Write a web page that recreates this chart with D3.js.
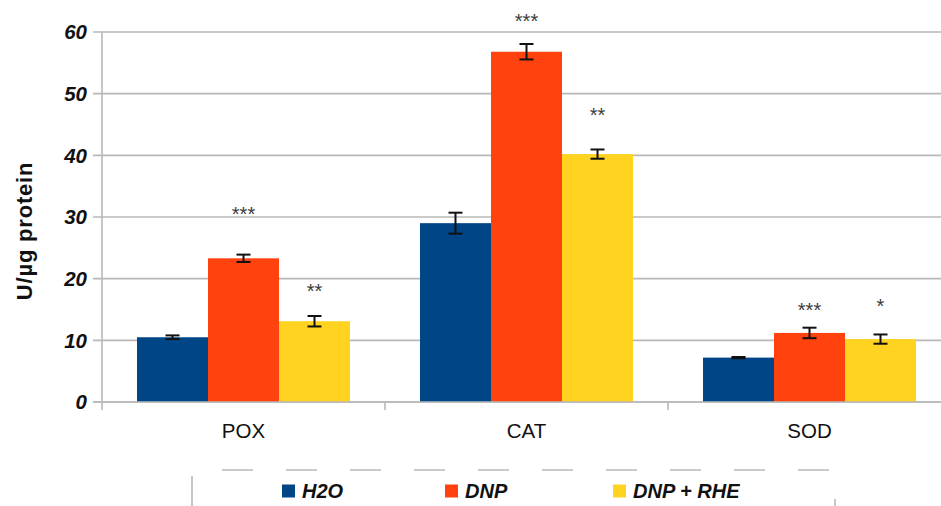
<!DOCTYPE html>
<html>
<head>
<meta charset="utf-8">
<script src="https://cdn.jsdelivr.net/npm/d3@7"></script>
<style>
  html, body { margin: 0; padding: 0; background: #fff; }
  svg { display: block; font-family: "Liberation Sans", Arial, sans-serif; }
</style>
</head>
<body>
<svg id="chart" width="941" height="506"></svg>
<script>
// Enzyme activities per treatment group
const categories = ["POX", "CAT", "SOD"];
const seriesNames = ["H2O", "DNP", "DNP + RHE"];
const h2oValues = [10.5, 29.0, 7.2];
const dnpValues = [23.3, 56.8, 11.2];
const rheValues = [13.1, 40.2, 10.2];
const h2oErrors = [0.3, 1.7, 0.1];
const dnpErrors = [0.6, 1.25, 0.85];
const rheErrors = [0.85, 0.75, 0.75];
// Significance marks and the level (in U/µg) where each one sits
const h2oMarks = ["", "", ""];
const dnpMarks = ["***", "***", "***"];
const rheMarks = ["**", "**", "*"];
const dnpMarkLevels = [31.0, 62.3, 15.4];
const rheMarkLevels = [18.5, 47.0, 16.1];
const yTicks = [0, 10, 20, 30, 40, 50, 60];

const colors = ["#004586", "#ff420e", "#ffd320"];

const seriesValues = [h2oValues, dnpValues, rheValues];
const seriesErrors = [h2oErrors, dnpErrors, rheErrors];
const seriesMarks = [h2oMarks, dnpMarks, rheMarks];
const seriesMarkLevels = [null, dnpMarkLevels, rheMarkLevels];

const svg = d3.select("#chart");

const plotLeft = 102, plotRight = 951, plotTop = 32, plotBottom = 402;

const x = d3.scaleBand().domain(categories).range([plotLeft, plotRight]).padding(0);
const xs = d3.scaleBand().domain(seriesNames)
  .range([0, x.bandwidth()]).paddingInner(0).paddingOuter(0.493);
const y = d3.scaleLinear().domain([0, 60]).range([plotBottom, plotTop]);

// Horizontal gridlines with short ticks left of the axis
const grid = svg.append("g");
grid.selectAll("line").data(yTicks).join("line")
  .attr("x1", plotLeft - 9).attr("x2", plotRight)
  .attr("y1", d => y(d)).attr("y2", d => y(d))
  .attr("stroke", "#b8b8b8").attr("stroke-width", 1.6);

// Y axis labels
svg.append("g").selectAll("text").data(yTicks).join("text")
  .attr("x", 87).attr("y", d => y(d))
  .attr("dy", "0.36em")
  .attr("text-anchor", "end")
  .attr("font-size", 20.5).attr("font-weight", "bold").attr("font-style", "italic")
  .attr("fill", "#111")
  .text(d => d);

// Vertical axis line
svg.append("line")
  .attr("x1", plotLeft).attr("x2", plotLeft)
  .attr("y1", plotTop).attr("y2", plotBottom + 8)
  .attr("stroke", "#b8b8b8").attr("stroke-width", 1.6);

// Category separators below the baseline
const bounds = categories.slice(1).map(c => x(c));
svg.append("g").selectAll("line").data(bounds).join("line")
  .attr("x1", d => d).attr("x2", d => d)
  .attr("y1", plotBottom).attr("y2", plotBottom + 8)
  .attr("stroke", "#b8b8b8").attr("stroke-width", 1.6);

// Bars
const rows = [];
categories.forEach((c, ci) => {
  seriesNames.forEach((s, si) => {
    rows.push({
      cat: c, series: s, si,
      value: seriesValues[si][ci],
      err: seriesErrors[si][ci],
      mark: seriesMarks[si][ci],
      markLevel: seriesMarkLevels[si] ? seriesMarkLevels[si][ci] : null
    });
  });
});

const barG = svg.append("g");
barG.selectAll("rect").data(rows).join("rect")
  .attr("x", d => x(d.cat) + xs(d.series))
  .attr("width", xs.bandwidth())
  .attr("y", d => y(d.value))
  .attr("height", d => y(0) - y(d.value))
  .attr("fill", d => colors[d.si]);

// Redraw baseline over the bars
svg.append("line")
  .attr("x1", plotLeft - 9).attr("x2", plotRight)
  .attr("y1", y(0)).attr("y2", y(0))
  .attr("stroke", "#b8b8b8").attr("stroke-width", 1.6);

// Error bars
const errG = svg.append("g").attr("stroke", "#111").attr("stroke-width", 2);
rows.forEach(d => {
  const cx = x(d.cat) + xs(d.series) + xs.bandwidth() / 2;
  const y1 = y(d.value + d.err), y2 = y(d.value - d.err);
  errG.append("line").attr("x1", cx).attr("x2", cx).attr("y1", y1).attr("y2", y2);
  errG.append("line").attr("x1", cx - 7).attr("x2", cx + 7).attr("y1", y1).attr("y2", y1);
  errG.append("line").attr("x1", cx - 7).attr("x2", cx + 7).attr("y1", y2).attr("y2", y2);
});

// Significance marks
svg.append("g").selectAll("text").data(rows.filter(d => d.mark)).join("text")
  .attr("x", d => x(d.cat) + xs(d.series) + xs.bandwidth() / 2)
  .attr("y", d => y(d.markLevel))
  .attr("dy", "0.5em")
  .attr("text-anchor", "middle")
  .attr("font-size", 20)
  .attr("fill", "#3c3c3c")
  .text(d => d.mark);

// Category labels
svg.append("g").selectAll("text").data(categories).join("text")
  .attr("x", d => x(d) + x.bandwidth() / 2)
  .attr("y", 431)
  .attr("dy", "0.36em")
  .attr("text-anchor", "middle")
  .attr("font-size", 20.5)
  .attr("fill", "#111")
  .text(d => d);

// Y axis title
svg.append("text")
  .attr("transform", "translate(32,231) rotate(-90)")
  .attr("text-anchor", "middle")
  .attr("font-size", 22).attr("font-weight", "bold")
  .attr("letter-spacing", 0.8)
  .attr("fill", "#111")
  .text("U/µg protein");

// Legend frame: dashed top rule and side marks
svg.append("line")
  .attr("x1", 222).attr("x2", 835).attr("y1", 470).attr("y2", 470)
  .attr("stroke", "#b8b8b8").attr("stroke-width", 1.6)
  .attr("stroke-dasharray", "31,33");
svg.append("line")
  .attr("x1", 192).attr("x2", 192).attr("y1", 476).attr("y2", 506)
  .attr("stroke", "#b8b8b8").attr("stroke-width", 1.6);
svg.append("line")
  .attr("x1", 835).attr("x2", 835).attr("y1", 499).attr("y2", 506)
  .attr("stroke", "#b8b8b8").attr("stroke-width", 1.6);

// Legend entries
const legendX = [282, 445, 613];
const legend = svg.append("g").selectAll("g").data(seriesNames).join("g")
  .attr("transform", (d, i) => `translate(${legendX[i]},491)`);
legend.append("rect")
  .attr("x", 0).attr("y", -6.5).attr("width", 13).attr("height", 13)
  .attr("fill", (d, i) => colors[i]);
legend.append("text")
  .attr("x", 20).attr("y", 0).attr("dy", "0.36em")
  .attr("font-size", 20).attr("font-weight", "bold").attr("font-style", "italic")
  .attr("fill", "#111")
  .text(d => d);
</script>
</body>
</html>
